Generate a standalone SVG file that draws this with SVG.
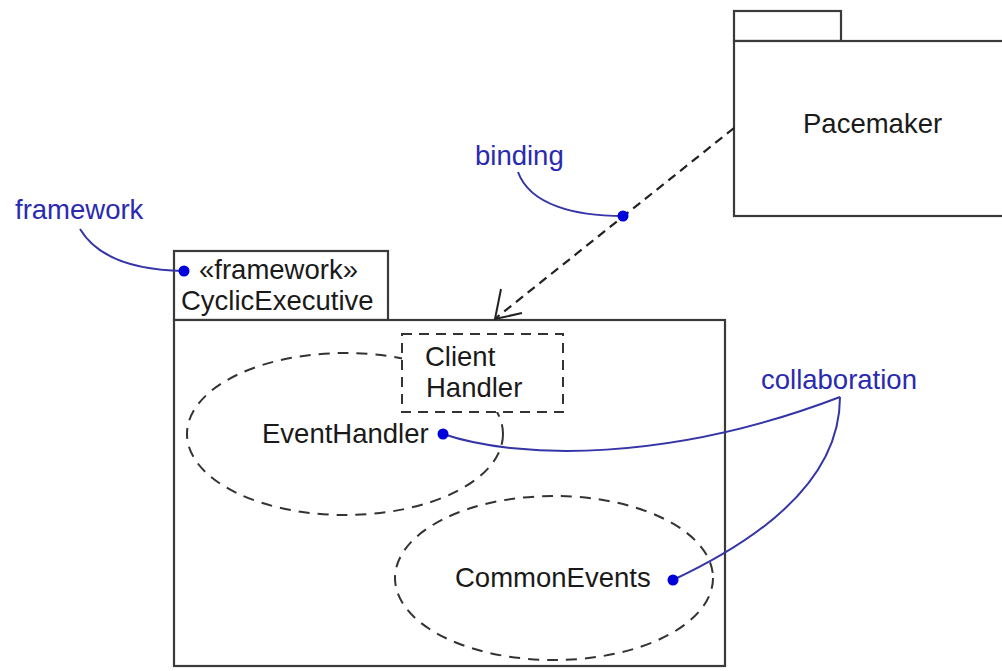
<svg xmlns="http://www.w3.org/2000/svg" width="1002" height="671" viewBox="0 0 1002 671">
<style>
.pkg{fill:#fff;stroke:#3a3a3a;stroke-width:2.2}
.dash{fill:none;stroke:#333;stroke-width:2;stroke-dasharray:11 8}
.txt{font-family:"Liberation Sans",Arial,sans-serif;font-size:27.5px;fill:#1a1a1a}
.note{font-family:"Liberation Sans",Arial,sans-serif;font-size:27.5px;fill:#2a2ab0}
.lead{fill:none;stroke:#3535a8;stroke-width:2}
.dot{fill:#0000dd}
</style>
<rect width="1002" height="671" fill="#fff"/>

<g id="pacemaker">
  <rect class="pkg" x="734" y="11" width="107" height="30"/>
  <rect class="pkg" x="734" y="41" width="280" height="175"/>
  <text class="txt" x="803" y="133">Pacemaker</text>
</g>

<g id="cyclicexecutive">
  <rect class="pkg" x="174" y="251" width="214" height="69"/>
  <rect class="pkg" x="174" y="320" width="551" height="346"/>
  <text class="txt" x="199" y="279" font-size="26">«framework»</text>
  <text class="txt" x="181" y="310">CyclicExecutive</text>
</g>

<g id="eventhandler">
  <ellipse class="dash" cx="345" cy="434" rx="158" ry="81"/>
  <text class="txt" x="262" y="443">EventHandler</text>
</g>

<g id="commonevents">
  <ellipse class="dash" cx="554" cy="578" rx="159" ry="82"/>
  <text class="txt" x="455" y="587">CommonEvents</text>
</g>

<g id="clienthandler">
  <rect x="402" y="334" width="161" height="78" fill="#fff" stroke="#333" stroke-width="2" stroke-dasharray="10 7"/>
  <text class="txt" x="425" y="366">Client</text>
  <text class="txt" x="426" y="397">Handler</text>
</g>

<g id="connectors">
  <line x1="734" y1="128" x2="496" y2="318" stroke="#222" stroke-width="2.2" stroke-dasharray="9 6"/>
  <polyline points="501,289 495,319 522,313" fill="none" stroke="#222" stroke-width="2"/>
</g>

<g id="notes">
  <text class="note" x="15" y="219">framework</text>
  <path class="lead" d="M80 229 C96 256,130 270,184 271"/>
  <circle class="dot" cx="184" cy="271" r="5.5"/>

  <text class="note" x="475" y="165">binding</text>
  <path class="lead" d="M518 172 C530 205,575 216,623 216"/>
  <circle class="dot" cx="623" cy="216" r="5.5"/>

  <text class="note" x="761" y="389">collaboration</text>
  <path class="lead" d="M443 434 C520 460,670 462,840 397"/>
  <path class="lead" d="M840 397 C840 470,780 530,673 580"/>
  <circle class="dot" cx="443" cy="434" r="5.5"/>
  <circle class="dot" cx="673" cy="580" r="5.5"/>
</g>
</svg>
